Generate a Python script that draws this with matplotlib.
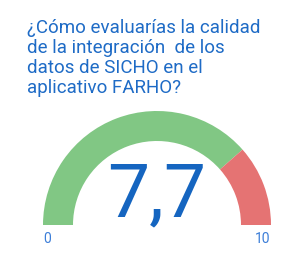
import numpy as np
import matplotlib
matplotlib.use('Agg')
import matplotlib.pyplot as plt
from matplotlib.patches import Wedge

plt.rcParams['font.family'] = ['Roboto', 'DejaVu Sans']

title_lines = ['¿Cómo evaluarías la calidad', 'de la integración  de los',
               'datos de SICHO en el', 'aplicativo FARHO?']
value = 7.7
vmin = 0
vmax = 10
value_label = '7,7'

W, H = 290, 255
fig = plt.figure(figsize=(W / 100, H / 100), dpi=100)
ax = fig.add_axes([0, 0, 1, 1])
ax.set_xlim(0, W)
ax.set_ylim(H, 0)
ax.axis('off')

# title
for i, line in enumerate(title_lines):
    ax.text(27, 33 + i * 20, line, fontsize=13.5, color='#1e6bc6',
            ha='left', va='baseline')

# gauge
cx, cy, r_out, r_in = 157, 226, 114, 84
frac = (value - vmin) / (vmax - vmin)
split = 180 - frac * 180
# y axis is inverted, so angles are mirrored
ax.add_patch(Wedge((cx, cy), r_out, 180, 360 - split, width=r_out - r_in,
                   color='#81c784', lw=0))
ax.add_patch(Wedge((cx, cy), r_out, 360 - split, 360, width=r_out - r_in,
                   color='#e57373', lw=0))

ax.text(cx, 216, value_label, fontsize=54, color='#1565c0',
        ha='center', va='baseline')
ax.text(47, 243, str(vmin), fontsize=10, color='#3b7dd8', ha='center', va='baseline')
ax.text(263, 243, str(vmax), fontsize=10, color='#3b7dd8', ha='center', va='baseline')

fig.savefig('out.png', dpi=100)
